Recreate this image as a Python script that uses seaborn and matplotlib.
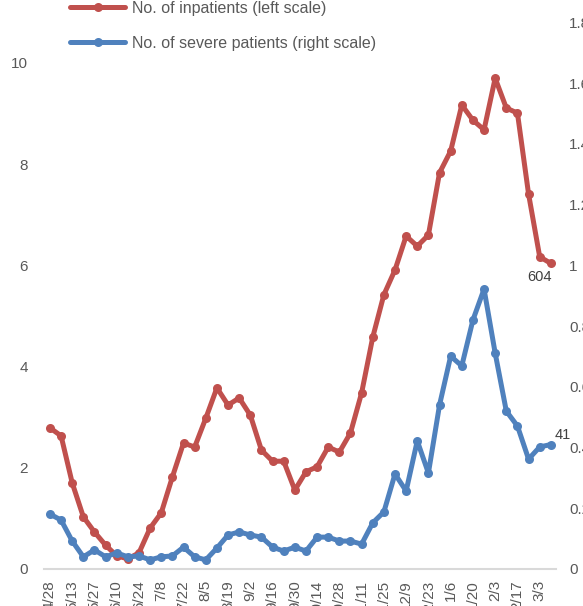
"""
Weekly inpatients vs severe patients, dual axis line chart.
Values are in hundreds (last points: 604 inpatients, 41 severe).
"""
import matplotlib
matplotlib.use("Agg")
import matplotlib.pyplot as plt
import numpy as np
import pandas as pd
import seaborn as sns

# tick labels every second week
TICK_LABELS = ["4/28", "5/13", "5/27", "6/10", "6/24", "7/8", "7/22", "8/5",
               "8/19", "9/2", "9/16", "9/30", "10/14", "10/28", "11/11", "11/25",
               "12/9", "12/23", "1/6", "1/20", "2/3", "2/17", "3/3"]

# left scale (hundreds)
INPATIENTS = [2.79, 2.63, 1.70, 1.03, 0.73, 0.47, 0.26, 0.20, 0.32, 0.81,
              1.11, 1.82, 2.49, 2.41, 2.98, 3.58, 3.24, 3.38, 3.04, 2.35,
              2.13, 2.13, 1.56, 1.92, 2.02, 2.41, 2.31, 2.69, 3.48, 4.58,
              5.42, 5.91, 6.58, 6.38, 6.60, 7.83, 8.26, 9.17, 8.87, 8.68,
              9.70, 9.11, 9.01, 7.41, 6.17, 6.04]

# right scale (hundreds)
SEVERE = [0.181, 0.161, 0.092, 0.040, 0.063, 0.040, 0.053, 0.040, 0.043, 0.030,
          0.040, 0.043, 0.072, 0.040, 0.030, 0.069, 0.112, 0.122, 0.112, 0.105,
          0.072, 0.059, 0.072, 0.059, 0.105, 0.105, 0.092, 0.092, 0.082, 0.152,
          0.188, 0.313, 0.257, 0.422, 0.316, 0.540, 0.701, 0.669, 0.820, 0.922,
          0.711, 0.520, 0.471, 0.362, 0.402, 0.410]

LABEL_LEFT = "No. of inpatients (left scale)"
LABEL_RIGHT = "No. of severe patients (right scale)"

RED = "#C0504D"
BLUE = "#4F81BD"
GRAY = "#595959"

sns.set_style("white")
plt.rcParams["font.family"] = ["Liberation Sans", "DejaVu Sans"]

df = pd.DataFrame({
    "week": np.arange(len(INPATIENTS)),
    "inpatients": INPATIENTS,
    "severe": SEVERE,
})

W, H = 583, 606
fig = plt.figure(figsize=(W / 100, H / 100), dpi=100)
# plot area runs past the top edge (the picture is a crop of a taller chart)
ax = fig.add_axes([44.4 / W, 37 / H, 512 / W, 12 * 50.6 / H])
ax2 = ax.twinx()

sns.lineplot(data=df, x="week", y="inpatients", ax=ax, color=RED, lw=3.6,
             marker="o", ms=6.5, mec=RED, mew=0, legend=False)
sns.lineplot(data=df, x="week", y="severe", ax=ax2, color=BLUE, lw=3.6,
             marker="o", ms=6.5, mec=BLUE, mew=0, legend=False)

ax.set_xlim(-0.5, len(INPATIENTS) - 0.5)
ax.set_ylim(0, 12)
ax2.set_ylim(0, 2)

ax.set_xticks(np.arange(0, len(INPATIENTS), 2))
ax.set_xticklabels(TICK_LABELS, rotation=90)
ax.set_yticks(np.arange(0, 13, 2))
ax2.set_yticks(np.arange(0, 2.01, 0.2))
ax2.set_yticklabels([f"{v:g}" for v in np.arange(0, 2.01, 0.2)])

ax.tick_params(axis="x", length=0, pad=8, labelcolor=GRAY, labelsize=11)
ax.tick_params(axis="y", length=0, pad=12, labelcolor=GRAY, labelsize=11)
ax2.tick_params(axis="y", length=0, pad=9, labelcolor=GRAY, labelsize=11)

for a in (ax, ax2):
    a.set_xlabel("")
    a.set_ylabel("")
    for s in a.spines.values():
        s.set_visible(False)
ax.spines["bottom"].set_visible(True)
ax.spines["bottom"].set_color("#D9D9D9")
ax.spines["bottom"].set_linewidth(1.5)

# data labels on the last points
ax.annotate("604", (df["week"].iloc[-1], INPATIENTS[-1]), xytext=(-8, -10),
            textcoords="offset points", ha="center", va="center",
            color="#404040", fontsize=10.5)
ax2.annotate("41", (df["week"].iloc[-1], SEVERE[-1]), xytext=(3, 6.5),
             textcoords="offset points", ha="left", va="center",
             color="#404040", fontsize=10.5)

handles = ax.get_lines()[:1] + ax2.get_lines()[:1]
fig.legend(handles, [LABEL_LEFT, LABEL_RIGHT], loc="upper left",
           bbox_to_anchor=(70 / W, 1 - 0.5 / H), frameon=False, fontsize=11.5,
           labelcolor=GRAY, handlelength=3.45, handletextpad=0.45,
           labelspacing=1.27, borderpad=0, borderaxespad=0)

fig.savefig("out.png", dpi=100)
